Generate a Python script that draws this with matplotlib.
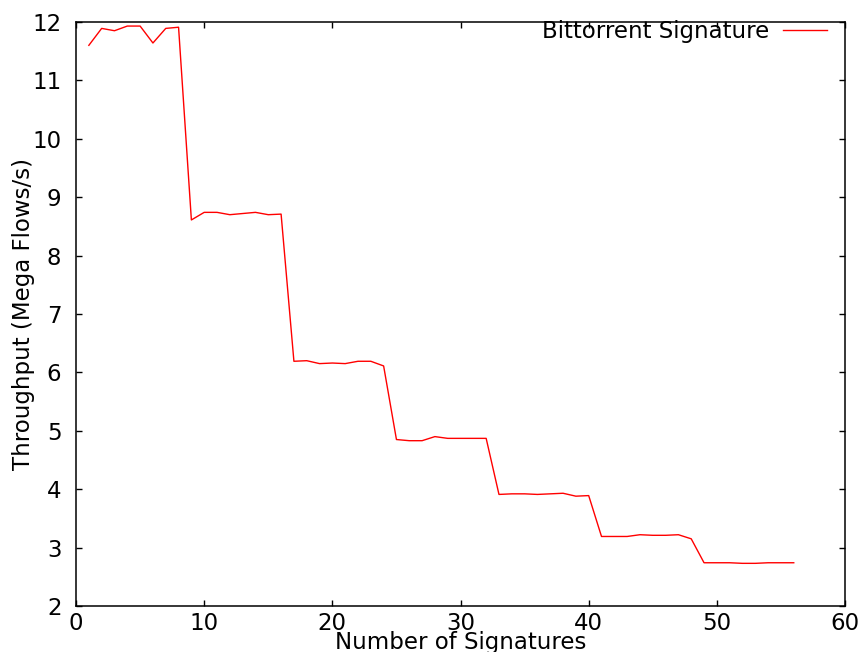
#!/usr/bin/env python3
import matplotlib
matplotlib.use('Agg')
import matplotlib.pyplot as plt

signatures = list(range(1, 57))
throughput = [
    11.60, 11.89, 11.85, 11.93, 11.93, 11.64, 11.89, 11.91,
    8.61, 8.74, 8.74, 8.70, 8.72, 8.74, 8.70, 8.71,
    6.19, 6.20, 6.15, 6.16, 6.15, 6.19, 6.19, 6.11,
    4.85, 4.83, 4.83, 4.90, 4.87, 4.87, 4.87, 4.87,
    3.91, 3.92, 3.92, 3.91, 3.92, 3.93, 3.88, 3.89,
    3.19, 3.19, 3.19, 3.22, 3.21, 3.21, 3.22, 3.15,
    2.74, 2.74, 2.74, 2.73, 2.73, 2.74, 2.74, 2.74,
]
xticks = [0, 10, 20, 30, 40, 50, 60]
yticks = [2, 3, 4, 5, 6, 7, 8, 9, 10, 11, 12]

plt.rcParams['font.family'] = ['DejaVu Sans']
plt.rcParams['font.size'] = 16.5

fig = plt.figure(figsize=(8.65, 6.52), dpi=100)
ax = fig.add_axes([0.0879, 0.0706, 0.889, 0.8957])
ax.plot(signatures, throughput, color='red', linewidth=1.0, label='Bittorrent Signature')

ax.set_xlim(0, 60)
ax.set_ylim(2, 12)
ax.set_xticks(xticks)
ax.set_yticks(yticks)
ax.tick_params(direction='in', top=True, right=True, length=4.5, width=1)
ax.tick_params(axis='x', pad=4)
ax.tick_params(axis='y', pad=10.5)
for s in ax.spines.values():
    s.set_linewidth(1.1)

ax.set_xlabel('Number of Signatures', labelpad=-2.5)
ax.set_ylabel('Throughput (Mega Flows/s)', labelpad=-2)

ax.legend(loc='upper right', frameon=False, markerfirst=False,
          handlelength=1.92, handletextpad=0.61, borderpad=0, borderaxespad=0,
          bbox_to_anchor=(1 - 18 / 769, 1 + 1.5 / 584))

fig.savefig('out.png', dpi=100)
